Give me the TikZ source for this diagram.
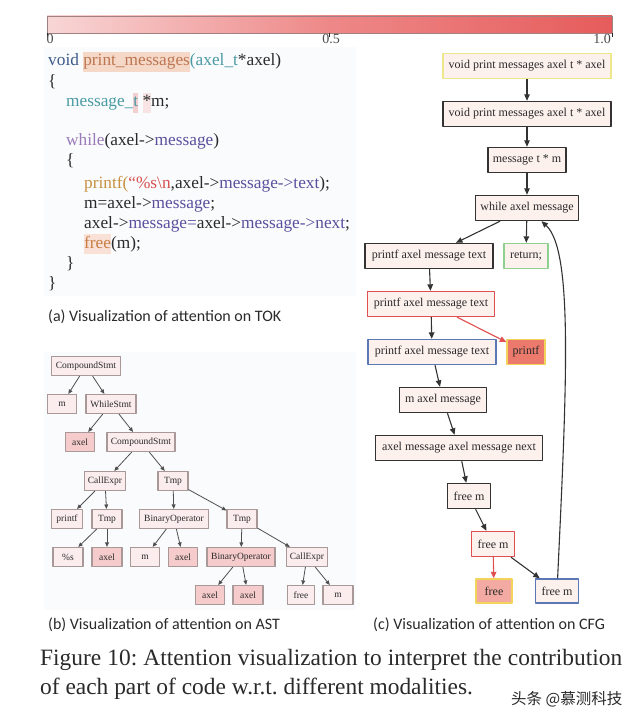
\documentclass[tikz,border=0pt]{standalone}
\usepackage{fontspec}
\setmainfont{Liberation Serif}
\newfontfamily\capfont{Carlito}
\newfontfamily\cjkfont{Noto Sans CJK SC}
\usetikzlibrary{arrows.meta}
\definecolor{cdark}{HTML}{2A2A2A}
\definecolor{cvoid}{HTML}{3D5A8A}
\definecolor{cfn}{HTML}{BC7650}
\definecolor{cfnhl}{HTML}{F6D8C8}
\definecolor{cteal}{HTML}{4A9AA3}
\definecolor{cpink}{HTML}{F3D0D0}
\definecolor{cpinklt}{HTML}{F8E4E4}
\definecolor{cwhile}{HTML}{9A7AB8}
\definecolor{cmsg}{HTML}{5C4F9E}
\definecolor{cprintf}{HTML}{C8903F}
\definecolor{cred}{HTML}{D65050}
\definecolor{cfree}{HTML}{C87E44}
\definecolor{cfreehl}{HTML}{F9E1D8}
\definecolor{bgcode}{HTML}{FAFBFD}
\definecolor{barL}{HTML}{F8D6D6}
\definecolor{barM}{HTML}{EE8888}
\definecolor{barR}{HTML}{E65C5C}
\definecolor{barborder}{HTML}{A08080}
\definecolor{cfgblack}{HTML}{333333}
\definecolor{cfgfill}{HTML}{FDF1EE}
\definecolor{cyel}{HTML}{EDE68A}
\definecolor{cyel2}{HTML}{F2D45A}
\definecolor{cgreen}{HTML}{8FD08F}
\definecolor{cred2}{HTML}{E05050}
\definecolor{cblue}{HTML}{5B78B5}
\definecolor{csalmon}{HTML}{EC7A6C}
\definecolor{cfreefill}{HTML}{F2AAA2}
\definecolor{astline}{HTML}{A89898}
\definecolor{astfill}{HTML}{FBEDED}
\definecolor{astpink}{HTML}{F5CBCB}
\definecolor{astedge}{HTML}{505050}
\newcommand\tc[2]{{\color{#1}#2}}
\newcommand\hlbg[2]{{\setlength{\fboxsep}{0pt}\colorbox{#1}{\strut #2}}}
\begin{document}
\begin{tikzpicture}[x=1pt,y=-1pt,line join=round,
  codesty/.style={font=\fontsize{17.3}{20}\selectfont, text=cdark, anchor=base west, inner sep=0pt},
  capsty/.style={font=\capfont\fontsize{16}{18}\selectfont, text=cdark, anchor=base west, inner sep=0pt},
  barlabel/.style={font=\fontsize{14}{16}\selectfont, text=cdark!85, inner sep=0pt},
  cfg/.style={draw=cfgblack, line width=1.4pt, fill=cfgfill, font=\fontsize{12}{14}\selectfont, text=cdark, minimum height=25pt, inner xsep=2pt, inner ysep=0pt},
  ast/.style={draw=astline, line width=1.1pt, fill=astfill, font=\fontsize{9.5}{11}\selectfont, text=cdark, minimum height=19pt, inner xsep=2pt, inner ysep=0pt},
  astp/.style={ast, fill=astpink},
  cedge/.style={-{Triangle[length=6.5pt,width=5.5pt]}, line width=1.1pt, draw=cfgblack},
  aedge/.style={-{Triangle[length=4.5pt,width=3.8pt]}, line width=0.8pt, draw=astedge}
]
\useasboundingbox (0,0) rectangle (640,722);
\fill[white] (0,0) rectangle (640,722);
% backgrounds
\fill[bgcode] (44,47) rectangle (356,296);
\fill[bgcode] (44,352) rectangle (356,610);
% colour bar
\shade[left color=barL, right color=barR, middle color=barM] (47,16) rectangle (612,33);
\draw[barborder, line width=0.6pt] (47,16) rectangle (612,33);
\draw[cdark, line width=0.6pt] (47,33) -- (47,37) (329.5,33) -- (329.5,37) (612,33) -- (612,37);
\node[barlabel, anchor=base] (l0) at (50,44) {0};
\node[barlabel, anchor=base] (l05) at (331,44) {0.5};
\node[barlabel, anchor=base east] (l1) at (611,44) {1.0};
% code
\node[codesty] (c1) at (48,66) {\tc{cvoid}{void} \hlbg{cfnhl}{\tc{cfn}{print\_messages}}\tc{cteal}{(axel\_t}*axel)};
\node[codesty] (c2) at (48,87) {\{};
\node[codesty] (c3) at (66,107) {\tc{cteal}{message\_}\hlbg{cpink}{\tc{cteal}{t}} \hlbg{cpinklt}{*}m;};
\node[codesty] (c4) at (66,146) {\tc{cwhile}{while}(axel->\tc{cmsg}{message})};
\node[codesty] (c5) at (66,166) {\{};
\node[codesty] (c6) at (84,188) {\tc{cprintf}{printf(}\tc{cred}{\textquotedblleft\%s\textbackslash n},axel->\tc{cmsg}{message->text});};
\node[codesty] (c7) at (84,208) {m=axel->\tc{cmsg}{message};};
\node[codesty] (c8) at (84,228) {axel->\tc{cmsg}{message=}axel->\tc{cmsg}{message->next};};
\node[codesty] (c9) at (84,248) {\hlbg{cfreehl}{\tc{cfree}{free}}(m);};
\node[codesty] (c10) at (66,268) {\}};
\node[codesty] (c11) at (48,288) {\}};
\node[capsty] (capa) at (48,321) {(a) Visualization of attention on TOK};
% AST
\node[ast, minimum width=69pt] (a1) at (86,366) {CompoundStmt};
\node[ast, minimum width=29pt] (a2) at (62,404) {m};
\node[ast, minimum width=50pt] (a3) at (111,404) {WhileStmt};
\node[astp, minimum width=29pt] (a4) at (80,442) {axel};
\node[ast, minimum width=68pt] (a5) at (141,442) {CompoundStmt};
\node[ast, minimum width=41pt] (a6) at (105,481) {CallExpr};
\node[ast, minimum width=30pt] (a7) at (173,481) {Tmp};
\node[ast, minimum width=31pt] (a8) at (67,519) {printf};
\node[ast, minimum width=30pt] (a9) at (107,519) {Tmp};
\node[ast, minimum width=69pt] (a10) at (174,519) {BinaryOperator};
\node[ast, minimum width=30pt] (a11) at (242,519) {Tmp};
\node[ast, minimum width=30pt] (a12) at (68,557) {\%s};
\node[astp, minimum width=30pt] (a13) at (107,557) {axel};
\node[ast, minimum width=29pt] (a14) at (145,557) {m};
\node[astp, minimum width=29pt] (a15) at (183,557) {axel};
\node[astp, minimum width=68pt] (a16) at (241,557) {BinaryOperator};
\node[ast, minimum width=41pt] (a17) at (307,557) {CallExpr};
\node[astp, minimum width=29pt] (a18) at (210,595) {axel};
\node[astp, minimum width=30pt] (a19) at (248,595) {axel};
\node[ast, minimum width=27pt] (a20) at (301,595) {free};
\node[ast, minimum width=30pt] (a21) at (338,595) {m};
\draw[aedge] (a1) -- (a2);
\draw[aedge] (a1) -- (a3);
\draw[aedge] (a3) -- (a4);
\draw[aedge] (a3) -- (a5);
\draw[aedge] (a5) -- (a6);
\draw[aedge] (a5) -- (a7);
\draw[aedge] (a6) -- (a8);
\draw[aedge] (a6) -- (a9);
\draw[aedge] (a7) -- (a10);
\draw[aedge] (a7) -- (a11);
\draw[aedge] (a9) -- (a12);
\draw[aedge] (a9) -- (a13);
\draw[aedge] (a10) -- (a14);
\draw[aedge] (a10) -- (a15);
\draw[aedge] (a11) -- (a16);
\draw[aedge] (a11) -- (a17);
\draw[aedge] (a16) -- (a18);
\draw[aedge] (a16) -- (a19);
\draw[aedge] (a17) -- (a20);
\draw[aedge] (a17) -- (a21);
\node[capsty] (capb) at (48,629) {(b) Visualization of attention on AST};
% CFG
\node[cfg, draw=cyel, minimum width=168pt] (n1) at (527,66) {void print messages axel t * axel};
\node[cfg, minimum width=168pt] (n2) at (527,114) {void print messages axel t * axel};
\node[cfg, minimum width=78pt] (n3) at (527,160) {message t * m};
\node[cfg, minimum width=103pt] (n4) at (527,208) {while axel message};
\node[cfg, minimum width=128pt] (n5) at (429,256) {printf axel message text};
\node[cfg, draw=cgreen, minimum width=44pt] (n6) at (526,256) {return;};
\node[cfg, draw=cred2, minimum width=127pt] (n7) at (431,304) {printf axel message text};
\node[cfg, draw=cblue, minimum width=128pt] (n8) at (432,352) {printf axel message text};
\node[cfg, draw=cyel2, fill=csalmon, minimum width=38pt] (n9) at (526,352) {printf};
\node[cfg, minimum width=87pt] (n10) at (443,400) {m axel message};
\node[cfg, minimum width=167pt] (n11) at (459,448) {axel message axel message next};
\node[cfg, minimum width=43pt] (n12) at (469,496) {free m};
\node[cfg, draw=cred2, minimum width=43pt] (n13) at (493,544) {free m};
\node[cfg, draw=cyel2, fill=cfreefill, minimum width=36pt, minimum height=24pt] (n14) at (494,591) {free};
\node[cfg, draw=cblue, minimum width=43pt, minimum height=24pt] (n15) at (557,591) {free m};
\draw[cedge] (n1) -- (n2);
\draw[cedge] (n2) -- (n3);
\draw[cedge] (n3) -- (n4);
\draw[cedge] (n4) -- (n5);
\draw[cedge] (n4) -- (n6);
\draw[cedge] (n5) -- (n7);
\draw[cedge] (n7) -- (n8);
\draw[cedge, draw=cred2, fill=cred2] (n7) -- (n9);
\draw[cedge] (n8) -- (n10);
\draw[cedge] (n10) -- (n11);
\draw[cedge] (n11) -- (n12);
\draw[cedge] (n12) -- (n13);
\draw[cedge, draw=cred2, fill=cred2] (n13) -- (n14);
\draw[cedge] (n13) -- (n15);
\draw[cedge] (n15) .. controls (567,380) and (573,250) .. (n4);
\node[capsty] (capc) at (373,629) {(c) Visualization of attention on CFG};
% figure caption
\node[anchor=base west, inner sep=0pt, text=cdark, font=\fontsize{23.4}{29}\selectfont\frenchspacing] (fig1) at (40,665) {\hbox to 582pt{Figure 10: Attention visualization to interpret the contribution}};
\node[anchor=base west, inner sep=0pt, text=cdark, font=\fontsize{23.4}{29}\selectfont\frenchspacing] (fig2) at (40,694) {of each part of code w.r.t. different modalities.};
\node[anchor=base west, inner sep=0pt, text=cdark, font=\cjkfont\fontsize{15.5}{18}\selectfont] (wm) at (511,704) {头条 @慕测科技};
\end{tikzpicture}
\end{document}
